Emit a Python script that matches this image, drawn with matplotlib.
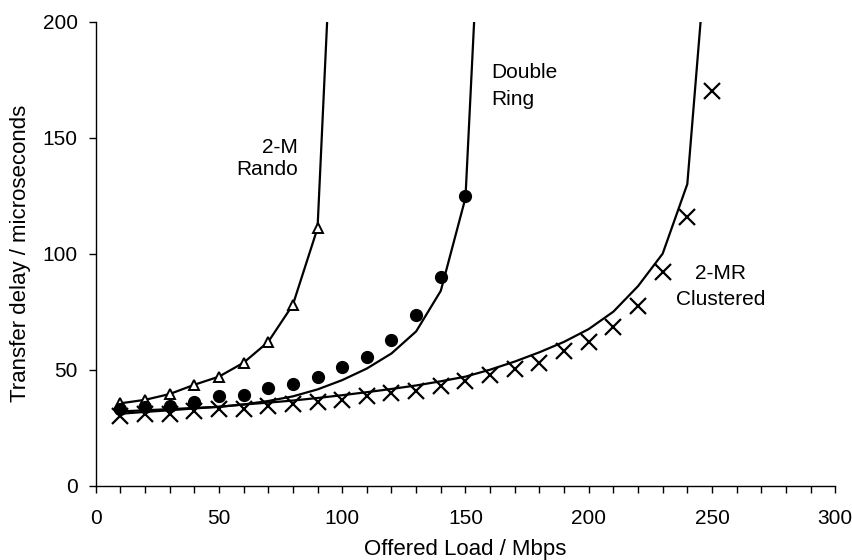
import matplotlib.pyplot as plt

plt.rcParams['font.family'] = ['Liberation Sans', 'DejaVu Sans']

# 2-M Rando (triangles + model line)
rando_x = [10, 20, 30, 40, 50, 60, 70, 80, 90]
rando_y = [35.5, 37, 39.5, 43.5, 47, 53, 62, 78, 111]
rando_line_x = [10, 20, 30, 40, 50, 60, 70, 80, 90, 100]
rando_line_y = [35.5, 37, 39.5, 43.5, 47, 53, 62, 78, 111, 340]

# Double Ring (filled circles + model line)
ring_x = [10, 20, 30, 40, 50, 60, 70, 80, 90, 100, 110, 120, 130, 140, 150]
ring_y = [33, 34, 34.5, 36, 38.5, 39, 42, 44, 47, 51, 55.5, 63, 73.5, 90, 125]
ring_line_x = [10, 20, 30, 40, 50, 60, 70, 80, 90, 100, 110, 120, 130, 140, 150, 160]
ring_line_y = [32, 32.5, 33, 33.5, 34, 35, 36.5, 38.5, 41.5, 45.5, 50.5, 57, 66.5, 84, 124, 340]

# 2-MR Clustered (crosses + model line)
clus_x = list(range(10, 260, 10))
clus_y = [30, 31, 31, 32, 33, 33, 34.5, 35, 36, 37, 38.5, 40, 41, 43, 45,
          47.5, 50.5, 53, 58, 62, 68.5, 77.5, 92, 116, 170]
clus_line_x = list(range(10, 260, 10))
clus_line_y = [31, 31.8, 32.5, 33.3, 34, 35, 35.8, 36.7, 37.8, 39, 40.3, 41.7, 43.2, 45, 47,
               50, 53.5, 57.5, 62, 67.5, 75, 86, 100, 130, 260]

fig = plt.figure(figsize=(8.52, 5.6), dpi=100)
ax = fig.add_axes([0.1123, 0.1327, 0.868, 0.8286])

lw = 1.6
ax.plot(rando_line_x, rando_line_y, color='black', lw=lw)
ax.plot(ring_line_x, ring_line_y, color='black', lw=lw)
ax.plot(clus_line_x, clus_line_y, color='black', lw=lw)

ax.plot(rando_x, rando_y, linestyle='none', marker='^', markersize=7.5,
        markerfacecolor='white', markeredgecolor='black', markeredgewidth=1.4)
ax.plot(ring_x, ring_y, linestyle='none', marker='o', markersize=8.5,
        color='black')
ax.plot(clus_x, clus_y, linestyle='none', marker='x', markersize=11,
        color='black', markeredgewidth=1.6)

ax.set_xlim(0, 300)
ax.set_ylim(0, 200)
ax.set_xticks(range(0, 301, 50))
ax.set_xticks(range(0, 301, 10), minor=True)
ax.set_yticks(range(0, 201, 50))

for s in ['top', 'right']:
    ax.spines[s].set_visible(False)
for s in ['left', 'bottom']:
    ax.spines[s].set_linewidth(1.0)

ax.tick_params(axis='y', which='major', direction='out', length=5,
               labelsize=15, width=1.0, pad=8)
ax.tick_params(axis='x', which='major', direction='out', length=5,
               labelsize=15, width=1.0, pad=12)
ax.tick_params(axis='x', which='minor', direction='out', length=5, width=1.0)

ax.set_xlabel('Offered Load / Mbps', fontsize=16, labelpad=8)
ax.set_ylabel('Transfer delay / microseconds', fontsize=16, labelpad=8)

ax.text(82, 141, '2-M\nRando', fontsize=15, ha='right', va='center',
        multialignment='right', linespacing=1.25)
ax.text(160.4, 172.3, 'Double\nRing', fontsize=15, ha='left', va='center',
        linespacing=1.5)
ax.text(253.5, 85.8, '2-MR\nClustered', fontsize=15, ha='center', va='center',
        linespacing=1.45)

fig.savefig('out.png', dpi=100)
